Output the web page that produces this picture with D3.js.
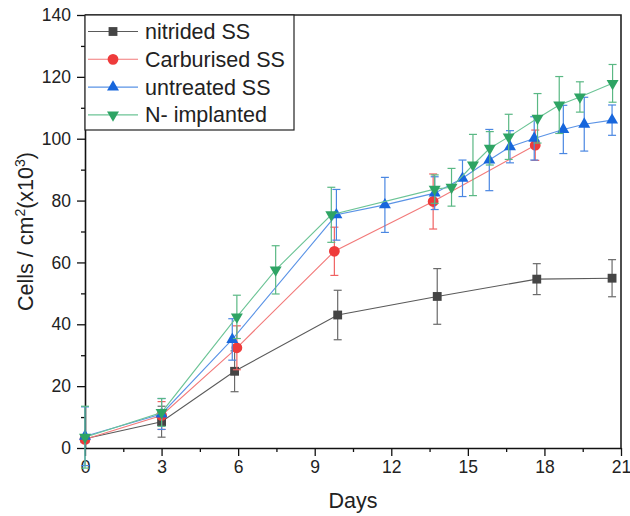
<!DOCTYPE html>
<html>
<head>
<meta charset="utf-8">
<script src="https://cdn.jsdelivr.net/npm/d3@7"></script>
<style>
    body { margin: 0; background: #fff; }
    text { font-family: Arial, "Liberation Sans", sans-serif; fill: #222; }
</style>
</head>
<body>
<div id="chart"></div>
<script>
// series: day, mean, error
var nitrided_days = [0, 3, 5.86, 9.9, 13.8, 17.7, 20.65];
var nitrided_vals = [3, 8.5, 24.8, 43, 49, 54.6, 54.9];
var nitrided_err = [1, 5, 6.6, 8, 9, 5, 6];

var carb_days = [0, 3, 5.95, 9.77, 13.64, 17.64];
var carb_vals = [2.8, 10.5, 32.4, 63.6, 79.7, 97.9];
var carb_err = [1, 4.5, 7.1, 7.8, 8.9, 4.9];

var untreated_days = [0, 3, 5.77, 9.85, 11.75, 13.7, 14.79, 15.84, 16.65, 17.6, 18.74, 19.56, 20.65];
var untreated_vals = [3.8, 11, 35.1, 75.4, 78.6, 82.4, 87.2, 93.1, 97.4, 100.1, 103, 104.7, 106];
var untreated_err = [9.5, 5, 6.7, 8.2, 8.9, 5.3, 5.9, 9.9, 5.2, 7, 7.8, 8.7, 4.9];

var implanted_days = [0, 3, 5.95, 7.47, 9.65, 13.7, 14.36, 15.2, 15.86, 16.6, 17.73, 18.58, 19.39, 20.67];
var implanted_vals = [3.5, 11.5, 42.4, 57.6, 75.4, 83.7, 84.3, 91.5, 96.9, 100.6, 106.6, 110.9, 113.5, 117.9];
var implanted_err = [10, 4.5, 7, 7.8, 8.9, 4.6, 6.1, 9.9, 5.4, 7.3, 8, 9.2, 4.9, 6.1];

var series_names = ['nitrided SS', 'Carburised SS', 'untreated SS', 'N- implanted'];
var x_ticks = [0, 3, 6, 9, 12, 15, 18, 21];
var y_ticks = [0, 20, 40, 60, 80, 100, 120, 140];

function pack(days, vals, errs) {
    return days.map(function(d, i) { return {x: d, y: vals[i], e: errs[i]}; });
}

var series = [
    {name: series_names[0], pts: pack(nitrided_days, nitrided_vals, nitrided_err),
        mark: '#454545', line: '#5a5a5a', err: '#6a6a6a', sym: d3.symbolSquare, size: 78, rot: 0},
    {name: series_names[1], pts: pack(carb_days, carb_vals, carb_err),
        mark: '#ee3b3b', line: '#f27a7a', err: '#f06262', sym: d3.symbolCircle, size: 92, rot: 0},
    {name: series_names[2], pts: pack(untreated_days, untreated_vals, untreated_err),
        mark: '#1766dc', line: '#5a93e6', err: '#4a87e2', sym: d3.symbolTriangle, size: 62, rot: 0},
    {name: series_names[3], pts: pack(implanted_days, implanted_vals, implanted_err),
        mark: '#2ea464', line: '#6cc496', err: '#5ab884', sym: d3.symbolTriangle, size: 62, rot: 180}
];

var width = 630, height = 516;
// plot box (window.top is taken, so m_ prefix)
var m_left = 85, m_right = 621, m_top = 15, m_bottom = 448;

var svg = d3.select('#chart')
    .append('svg')
    .attr('width', width)
    .attr('height', height);

var x = d3.scaleLinear().domain([0, 21]).range([m_left, m_right]);
var y = d3.scaleLinear().domain([0, 140]).range([m_bottom, m_top]);

// minor ticks
var x_minor = d3.range(1.5, 21, 3);
var y_minor = d3.range(10, 140, 20);

svg.append('g')
    .attr('transform', 'translate(0,' + m_bottom + ')')
    .call(d3.axisBottom(x).tickValues(x_minor).tickSize(4).tickFormat(''))
    .call(function(g) { g.select('.domain').remove(); g.selectAll('line').attr('stroke', '#111').attr('stroke-width', 1.3); });
svg.append('g')
    .attr('transform', 'translate(' + m_left + ',0)')
    .call(d3.axisLeft(y).tickValues(y_minor).tickSize(4).tickFormat(''))
    .call(function(g) { g.select('.domain').remove(); g.selectAll('line').attr('stroke', '#111').attr('stroke-width', 1.3); });

var x_axis = svg.append('g')
    .attr('transform', 'translate(0,' + m_bottom + ')')
    .call(d3.axisBottom(x).tickValues(x_ticks).tickSize(8).tickPadding(5).tickSizeOuter(0));
var y_axis = svg.append('g')
    .attr('transform', 'translate(' + m_left + ',0)')
    .call(d3.axisLeft(y).tickValues(y_ticks).tickSize(8).tickPadding(6).tickSizeOuter(0));

[x_axis, y_axis].forEach(function(g) {
    g.attr('font-size', null).attr('font-family', null);
    g.select('.domain').attr('stroke', '#111').attr('stroke-width', 1.6);
    g.selectAll('line').attr('stroke', '#111').attr('stroke-width', 1.3);
    g.selectAll('text')
        .style('font-size', '17.5px')
        .attr('fill', '#222');
});

// top + right frame
svg.append('path')
    .attr('d', 'M' + m_left + ',' + m_top + 'H' + m_right + 'V' + m_bottom)
    .attr('fill', 'none')
    .attr('stroke', '#222')
    .attr('stroke-width', 1.6);

var line = d3.line()
    .x(function(d) { return x(d.x); })
    .y(function(d) { return y(d.y); });

series.forEach(function(s) {
    var g = svg.append('g');
    g.append('path')
        .datum(s.pts)
        .attr('d', line)
        .attr('fill', 'none')
        .attr('stroke', s.line)
        .attr('stroke-width', 1.1);
    var eb = g.selectAll('.err')
        .data(s.pts)
        .enter()
        .append('g')
        .attr('stroke', s.err)
        .attr('stroke-width', 1.2);
    eb.append('line')
        .attr('x1', function(d) { return x(d.x); })
        .attr('x2', function(d) { return x(d.x); })
        .attr('y1', function(d) { return y(d.y - d.e); })
        .attr('y2', function(d) { return y(d.y + d.e); });
    [1, -1].forEach(function(k) {
        eb.append('line')
            .attr('x1', function(d) { return x(d.x) - 4; })
            .attr('x2', function(d) { return x(d.x) + 4; })
            .attr('y1', function(d) { return y(d.y + k * d.e); })
            .attr('y2', function(d) { return y(d.y + k * d.e); });
    });
    g.selectAll('.mark')
        .data(s.pts)
        .enter()
        .append('path')
        .attr('d', d3.symbol().type(s.sym).size(s.size))
        .attr('transform', function(d) {
            return 'translate(' + x(d.x) + ',' + y(d.y) + ') rotate(' + s.rot + ')';
        })
        .attr('fill', s.mark);
});

// legend
var legend = svg.append('g');
legend.append('rect')
    .attr('x', m_left)
    .attr('y', m_top)
    .attr('width', 294 - m_left)
    .attr('height', 130 - m_top)
    .attr('fill', '#fff')
    .attr('stroke', '#222')
    .attr('stroke-width', 1.2);
var rows = legend.selectAll('.row')
    .data(series)
    .enter()
    .append('g')
    .attr('transform', function(d, i) { return 'translate(0,' + (31.5 + i * 27.8) + ')'; });
rows.append('line')
    .attr('x1', 88).attr('x2', 138)
    .attr('stroke', function(d) { return d.line; })
    .attr('stroke-width', 1.1);
rows.append('path')
    .attr('d', function(d) { return d3.symbol().type(d.sym).size(d.size)(); })
    .attr('transform', function(d) { return 'translate(113,0) rotate(' + d.rot + ')'; })
    .attr('fill', function(d) { return d.mark; });
rows.append('text')
    .attr('x', 145)
    .attr('y', 7.5)
    .style('font-size', '21.5px')
    .text(function(d) { return d.name; });

// axis titles
svg.append('text')
    .attr('x', (m_left + m_right) / 2)
    .attr('y', 508)
    .attr('text-anchor', 'middle')
    .style('font-size', '21.5px')
    .text('Days');

var ylab = svg.append('text')
    .attr('transform', 'translate(33,' + ((m_top + m_bottom) / 2) + ') rotate(-90)')
    .attr('text-anchor', 'middle')
    .style('font-size', '21.5px');
ylab.append('tspan').text('Cells / cm');
ylab.append('tspan').attr('dy', -8).style('font-size', '14px').text('2');
ylab.append('tspan').attr('dy', 8).text('(x10');
ylab.append('tspan').attr('dy', -8).style('font-size', '14px').text('3');
ylab.append('tspan').attr('dy', 8).text(')');
</script>
</body>
</html>
